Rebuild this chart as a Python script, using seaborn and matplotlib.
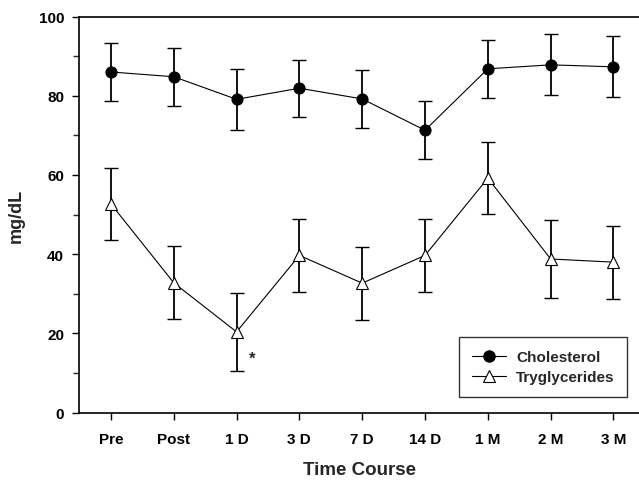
import matplotlib
matplotlib.use("Agg")
import matplotlib.pyplot as plt
import seaborn as sns
import pandas as pd
import numpy as np
from matplotlib.ticker import MultipleLocator
from matplotlib.lines import Line2D

categories = ["Pre", "Post", "1 D", "3 D", "7 D", "14 D", "1 M", "2 M", "3 M"]
chol_mean = [86.0, 84.8, 79.1, 81.9, 79.2, 71.3, 86.8, 87.8, 87.3]
chol_err = [7.2, 7.3, 7.7, 7.2, 7.3, 7.3, 7.3, 7.7, 7.7]
tg_mean = [52.7, 32.8, 20.4, 39.7, 32.7, 39.7, 59.2, 38.8, 38.0]
tg_err = [9.1, 9.2, 9.8, 9.2, 9.2, 9.2, 9.1, 9.9, 9.2]

sns.set_theme(style="ticks")
plt.rcParams['font.family'] = ['Liberation Sans', 'DejaVu Sans']

x = np.arange(len(categories))
df = pd.DataFrame({
    "x": np.concatenate([x, x]),
    "value": chol_mean + tg_mean,
    "series": ["Cholesterol"] * len(x) + ["Tryglycerides"] * len(x),
})

fig = plt.figure(figsize=(6.39, 4.81), dpi=100)
ax = fig.add_axes([0.1244, 0.1399, 0.8750, 0.8237])

for mean, err in [(chol_mean, chol_err), (tg_mean, tg_err)]:
    ax.errorbar(x, mean, yerr=err, fmt="none", ecolor="black", elinewidth=1.3,
                capsize=5, capthick=1.0, zorder=2)

sns.lineplot(data=df, x="x", y="value", hue="series", style="series",
             markers={"Cholesterol": "o", "Tryglycerides": "^"},
             dashes=False, palette={"Cholesterol": "black", "Tryglycerides": "black"},
             linewidth=0.8, markersize=8, ax=ax, zorder=3, legend=False)
lines = ax.get_lines()
lines[-2].set_markerfacecolor("black"); lines[-2].set_markeredgecolor("black")
lines[-1].set_markerfacecolor("white"); lines[-1].set_markeredgecolor("black")
lines[-1].set_markeredgewidth(0.8)

ax.text(2.25, 13.7, "*", ha="center", va="center", fontsize=12, fontweight="bold")

ax.set_xlim(-0.5, 8.4)
ax.set_ylim(0, 100)
ax.set_xticks(x)
ax.set_xticklabels(categories, fontsize=11, fontweight="bold")
ax.yaxis.set_major_locator(MultipleLocator(20))
ax.yaxis.set_minor_locator(MultipleLocator(10))
for lab in ax.get_yticklabels():
    lab.set_fontweight("bold"); lab.set_fontsize(11)
ax.tick_params(axis="both", which="major", direction="out", length=5, width=1, pad=9, colors="black")
ax.tick_params(axis="y", which="minor", direction="out", length=4, width=1)
ax.tick_params(axis="y", pad=6)
ax.set_xlabel("Time Course", fontsize=13.5, fontweight="bold", labelpad=11)
ax.set_ylabel("mg/dL", fontsize=13, fontweight="bold", labelpad=10)
for s in ["top", "left", "bottom"]:
    ax.spines[s].set_visible(True)
    ax.spines[s].set_linewidth(1.2)
    ax.spines[s].set_color("black")
ax.spines["right"].set_visible(False)

handles = [Line2D([], [], color="black", lw=0.8, marker="o", markersize=8, markerfacecolor="black"),
           Line2D([], [], color="black", lw=0.8, marker="^", markersize=8, markerfacecolor="white", markeredgewidth=0.8)]
leg = ax.legend(handles, ["Cholesterol", "Tryglycerides"], loc="lower right",
                bbox_to_anchor=(0.980, 0.039), borderaxespad=0, frameon=True, fancybox=False,
                prop={"weight": "bold", "size": 11}, handlelength=2.2, borderpad=0.85,
                labelspacing=0.4, handletextpad=0.65)
leg.get_frame().set_edgecolor("black")
leg.get_frame().set_linewidth(1.0)

fig.savefig("out.png", dpi=100)
